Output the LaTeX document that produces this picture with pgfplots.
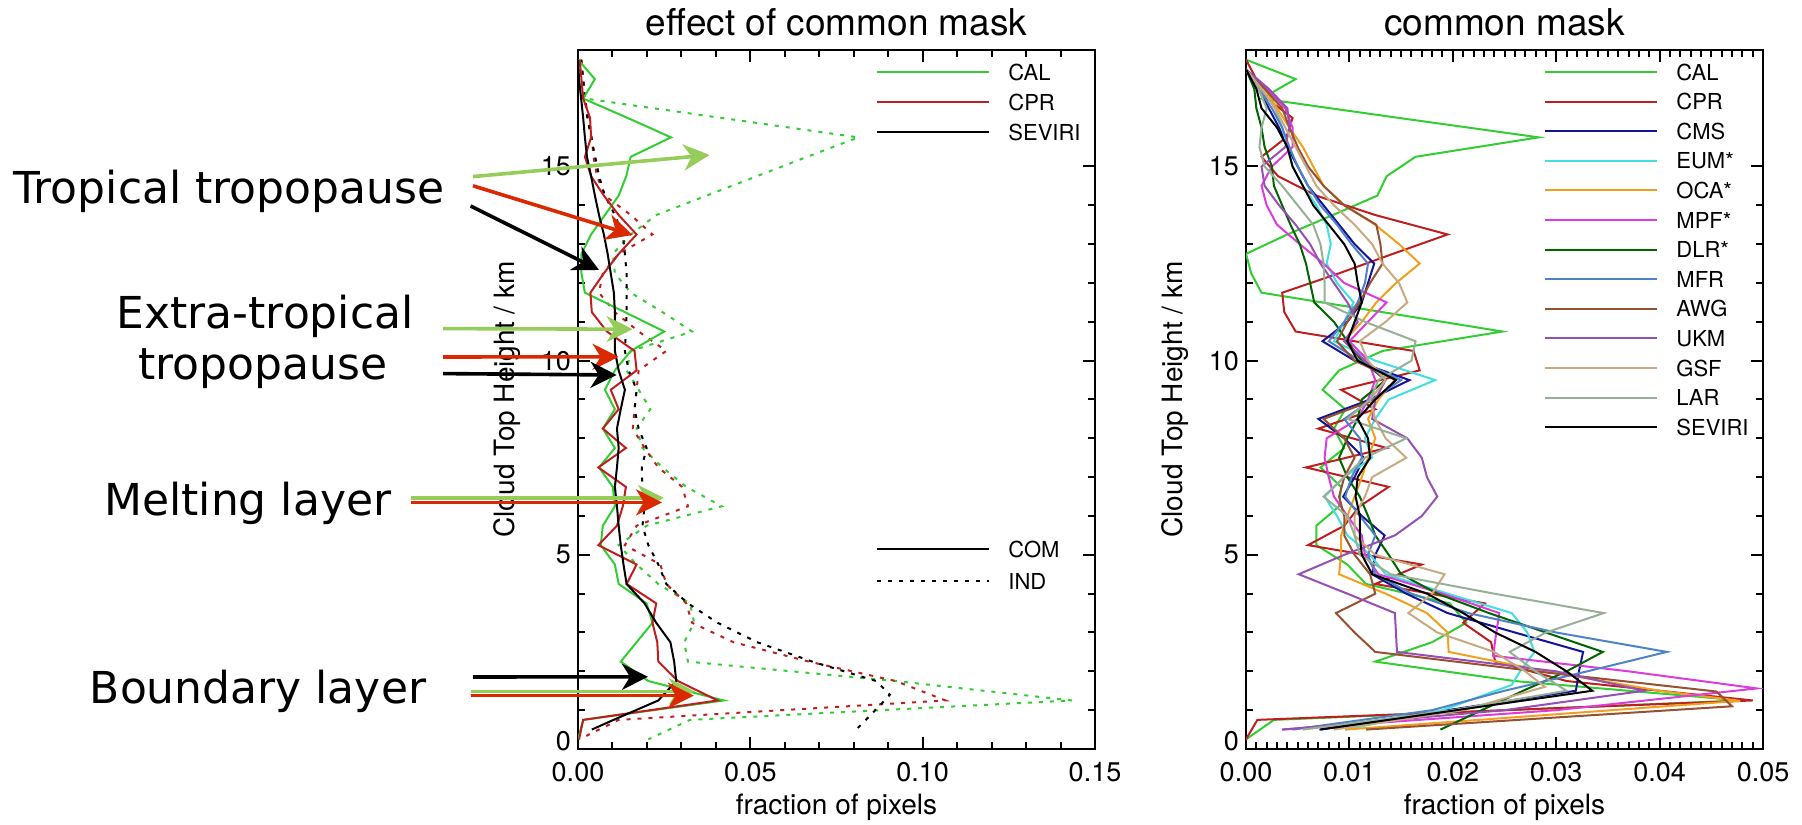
\documentclass[border=0pt]{standalone}
\usepackage{fontspec}
\setmainfont{TeX Gyre Heros}
\newfontfamily\annfont{DejaVu Sans}
\usepackage{pgfplots}
\pgfplotsset{compat=1.18}
\usetikzlibrary{arrows.meta}

\definecolor{calgreen}{RGB}{50,205,50}
\definecolor{cprred}{RGB}{190,30,30}
\definecolor{cmsblue}{RGB}{20,20,150}
\definecolor{eumcyan}{RGB}{64,224,224}
\definecolor{ocaorange}{RGB}{240,160,30}
\definecolor{mpfmag}{RGB}{220,60,220}
\definecolor{dlrgreen}{RGB}{0,100,0}
\definecolor{mfrblue}{RGB}{80,130,200}
\definecolor{awgbrown}{RGB}{150,80,50}
\definecolor{ukmpurple}{RGB}{150,80,180}
\definecolor{gsftan}{RGB}{200,170,130}
\definecolor{largray}{RGB}{150,175,150}
\definecolor{arrowgreen}{RGB}{150,205,90}
\definecolor{arrowred}{RGB}{220,40,0}

\pgfplotsset{
  myax/.style={
    scale only axis, width=258.5pt, height=349.5pt,
    xmin=0, ymin=0, ymax=18,
    axis line style={line width=1.3pt},
    tick align=inside,
    major tick length=6pt, minor tick length=3.5pt,
    every tick/.style={black, line width=1pt},
    ytick={0,5,10,15}, yticklabels={,5,10,15}, minor y tick num=4,
    extra y ticks={0.2}, extra y tick labels={0},
    extra y tick style={major tick length=0pt},
    scaled x ticks=false,
    /pgf/number format/assume math mode=true,
    xticklabel style={/pgf/number format/fixed, /pgf/number format/fixed zerofill, /pgf/number format/precision=2, yshift=-3pt},
    tick label style={font=\fontsize{13.5}{16}\selectfont},
    label style={font=\fontsize{14}{17}\selectfont},
    xlabel style={at={(axis description cs:0.5,-0.083)}, anchor=center},
    ylabel style={at={(axis description cs:-0.137,0.5)}, anchor=center},
    xlabel={fraction of pixels}, ylabel={Cloud Top Height / km},
    every axis plot/.append style={line width=1pt},
    legend image code/.code={\draw[#1] (0pt,0pt) -- (56pt,0pt);},
    legend cell align=left,
  },
  myleg/.style={legend style={draw=none, fill=none, inner sep=0pt, anchor=north west,
      font=\fontsize{11}{13}\selectfont, column sep=9pt, row sep=#1,
      nodes={inner sep=0pt, text height=9pt, text depth=1pt}}},
  ind/.style={dash pattern=on 2pt off 3.5pt},
}

\begin{document}
\begin{tikzpicture}
\useasboundingbox (0,0) rectangle (901pt,412pt);

% ---------------- left axis ----------------
\begin{axis}[myax, at={(289pt,37.5pt)}, anchor=south west,
  xmax=0.15, xtick={0,0.05,0.10,0.15}, minor x tick num=4,
  myleg=5pt, legend style={at={(axis description cs:0.5764,0.9828)}}]
% IND (dotted)
\addplot[calgreen, ind, forget plot] coordinates {
(0.0005,17.75) (0.001,17.25) (0.002,16.75) (0.0417,16.25) (0.0813,15.75) (0.0665,15.25) (0.0519,14.75) (0.0373,14.25) (0.0227,13.75) (0.0153,13.25) (0.0101,12.75) (0.0107,12.25) (0.0153,11.75) (0.0245,11.25) (0.0331,10.75) (0.0153,10.25) (0.0141,9.75) (0.0176,9.25) (0.021,8.75) (0.017,8.25) (0.0187,7.75) (0.0245,7.25) (0.0314,6.75) (0.0417,6.25) (0.0199,5.75) (0.0118,5.25) (0.017,4.75) (0.0233,4.25) (0.0325,3.75) (0.0337,3.25) (0.0308,2.75) (0.0319,2.25) (0.0922,1.75) (0.1433,1.25) (0.0325,0.75) (0.0204,0.25)};
\addplot[cprred, ind, forget plot] coordinates {
(0.001,17.75) (0.0015,17.25) (0.002,16.75) (0.003,16.25) (0.004,15.75) (0.0045,15.25) (0.0055,14.75) (0.0078,14.25) (0.0153,13.75) (0.0216,13.25) (0.0118,12.75) (0.0072,12.25) (0.0061,11.75) (0.0107,11.25) (0.0176,10.75) (0.0256,10.25) (0.0176,9.75) (0.017,9.25) (0.0164,8.75) (0.0159,8.25) (0.0193,7.75) (0.0233,7.25) (0.0302,6.75) (0.0319,6.25) (0.017,5.75) (0.0136,5.25) (0.0239,4.75) (0.0256,4.25) (0.0314,3.75) (0.0331,3.25) (0.0451,2.75) (0.067,2.25) (0.0922,1.75) (0.1066,1.25) (0.0118,0.75) (0.0004,0.25)};
\addplot[black, ind, forget plot] coordinates {
(0.0009,17.75) (0.0015,17.25) (0.0021,16.75) (0.0027,16.25) (0.0038,15.75) (0.005,15.25) (0.0061,14.75) (0.0078,14.25) (0.0107,13.75) (0.013,13.25) (0.0136,12.75) (0.0141,12.25) (0.0141,11.75) (0.0141,11.25) (0.0139,10.75) (0.0136,10.25) (0.0147,9.75) (0.017,9.25) (0.0164,8.75) (0.0176,8.25) (0.0199,7.75) (0.0185,7.25) (0.0187,6.75) (0.0193,6.25) (0.0187,5.75) (0.0204,5.25) (0.0233,4.75) (0.0256,4.25) (0.0319,3.75) (0.0405,3.25) (0.052,2.75) (0.068,2.25) (0.0865,1.75) (0.0905,1.4) (0.0882,1.18) (0.0835,0.75) (0.0807,0.5)};
% COM (solid)
\addplot[calgreen] coordinates {
(0,17.75) (0.0049,17.25) (0.0015,16.75) (0.0144,16.25) (0.027,15.75) (0.0153,15.25) (0.014,14.75) (0.0118,14.25) (0.0078,13.75) (0.0038,13.25) (0.001,12.75) (0.001,12.25) (0.002,11.75) (0.0136,11.25) (0.025,10.75) (0.0153,10.25) (0.0107,9.75) (0.0078,9.25) (0.0107,8.75) (0.0072,8.25) (0.0107,7.75) (0.0061,7.25) (0.0101,6.75) (0.0107,6.25) (0.0072,5.75) (0.0066,5.25) (0.0107,4.75) (0.0118,4.25) (0.0199,3.75) (0.0216,3.25) (0.017,2.75) (0.0124,2.25) (0.0204,1.75) (0.0423,1.25) (0.0015,0.75) (0,0.25)};
\addplot[cprred] coordinates {
(0.0005,17.75) (0.001,17.25) (0.0015,16.75) (0.0035,16.25) (0.0038,15.75) (0.002,15.25) (0.0038,14.75) (0.0075,14.25) (0.0118,13.75) (0.017,13.25) (0.0118,12.75) (0.0075,12.25) (0.0036,11.75) (0.004,11.25) (0.0084,10.75) (0.0164,10.25) (0.017,9.75) (0.0095,9.25) (0.0118,8.75) (0.0072,8.25) (0.0139,7.75) (0.0059,7.25) (0.0139,6.75) (0.013,6.25) (0.0113,5.75) (0.0059,5.25) (0.017,4.75) (0.0141,4.25) (0.0227,3.75) (0.0216,3.25) (0.023,2.75) (0.0233,2.25) (0.029,1.75) (0.0405,1.25) (0.0015,0.75) (0.0003,0.25)};
\addplot[black] coordinates {
(0,17.75) (0.0003,17.25) (0.0009,16.75) (0.0015,16.25) (0.002,15.75) (0.0026,15.25) (0.0038,14.75) (0.0049,14.25) (0.0061,13.75) (0.0075,13.25) (0.0086,12.75) (0.0095,12.25) (0.0104,11.75) (0.0107,11.25) (0.0107,10.75) (0.0107,10.25) (0.0118,9.75) (0.0136,9.25) (0.0124,8.75) (0.0113,8.25) (0.0118,7.75) (0.0113,7.25) (0.0107,6.75) (0.0113,6.25) (0.0118,5.75) (0.0124,5.25) (0.0132,4.75) (0.0141,4.25) (0.0193,3.75) (0.0227,3.25) (0.0268,2.75) (0.0279,2.25) (0.0285,1.75) (0.0233,1.25) (0.0103,0.75) (0.004,0.5)};
\legend{CAL,CPR,SEVIRI}
\end{axis}

% second legend of the left panel
\begin{axis}[at={(289pt,37.5pt)}, anchor=south west, scale only axis,
  width=258.5pt, height=349.5pt, xmin=0, xmax=0.15, ymin=0, ymax=18, hide axis,
  legend image code/.code={\draw[#1] (0pt,0pt) -- (56pt,0pt);}, legend cell align=left,
  myleg=6pt, legend style={at={(axis description cs:0.5764,0.3004)}}]
\addlegendimage{black, line width=1pt}
\addlegendentry{COM}
\addlegendimage{black, line width=1pt, ind}
\addlegendentry{IND}
\end{axis}

% ---------------- right axis ----------------
\begin{axis}[myax, at={(623pt,37.5pt)}, anchor=south west,
  xmax=0.05, xtick={0,0.01,0.02,0.03,0.04,0.05}, minor x tick num=9,
  myleg=4.8pt, legend style={at={(axis description cs:0.5764,0.9833)}}]
\addplot[calgreen] coordinates {
(0,17.75) (0.0048,17.25) (0.0015,16.75) (0.0148,16.25) (0.0283,15.75) (0.0164,15.25) (0.0136,14.75) (0.0127,14.25) (0.0084,13.75) (0.004,13.25) (0,12.75) (0.0005,12.25) (0.0015,11.75) (0.0132,11.25) (0.0248,10.75) (0.0132,10.25) (0.009,9.75) (0.0074,9.25) (0.0096,8.75) (0.0085,8.25) (0.0095,7.75) (0.0072,7.25) (0.0092,6.75) (0.009,6.25) (0.0068,5.75) (0.0068,5.25) (0.0098,4.75) (0.0116,4.25) (0.0197,3.75) (0.0213,3.25) (0.018,2.75) (0.0125,2.25) (0.026,1.75) (0.0479,1.25) (0.0027,0.75) (0,0.25)};
\addplot[cprred] coordinates {
(0,17.75) (0.001,17.25) (0.002,16.75) (0.0045,16.25) (0.0039,15.75) (0.0015,15.25) (0.0031,14.75) (0.0068,14.25) (0.0125,13.75) (0.0195,13.25) (0.0142,12.75) (0.009,12.25) (0.0035,11.75) (0.0037,11.25) (0.0048,10.75) (0.0162,10.25) (0.0168,9.75) (0.0092,9.25) (0.0125,8.75) (0.007,8.25) (0.0136,7.75) (0.0058,7.25) (0.0138,6.75) (0.011,6.25) (0.0095,5.75) (0.006,5.25) (0.017,4.75) (0.0125,4.25) (0.0231,3.75) (0.021,3.25) (0.0237,2.75) (0.0241,2.25) (0.031,1.75) (0.049,1.25) (0.0011,0.75) (0,0.25)};
\addplot[cmsblue] coordinates {
(0,17.5) (0.0012,17) (0.0022,16.5) (0.0032,16) (0.004,15.5) (0.005,15) (0.006,14.5) (0.0075,14) (0.009,13.5) (0.0105,13) (0.0124,12.5) (0.0118,12) (0.0112,11.5) (0.0098,11) (0.0074,10.5) (0.0105,10) (0.0158,9.5) (0.012,9) (0.007,8.5) (0.0095,8) (0.0114,7.5) (0.0105,7) (0.0094,6.5) (0.0112,6) (0.0134,5.5) (0.0125,5) (0.0122,4.5) (0.0155,4) (0.0195,3.5) (0.026,3) (0.0326,2.5) (0.0322,2) (0.0319,1.5) (0.0071,0.5)};
\addplot[eumcyan] coordinates {
(0,17.5) (0.0015,17) (0.0028,16.5) (0.0035,16) (0.004,15.5) (0.0045,15) (0.0055,14.5) (0.0068,14) (0.0078,13.5) (0.0082,13) (0.0078,12.5) (0.0088,12) (0.0104,11.5) (0.0095,11) (0.0085,10.5) (0.0125,10) (0.0183,9.5) (0.0138,9) (0.0125,8.5) (0.0115,8) (0.0122,7.5) (0.0095,7) (0.0076,6.5) (0.0088,6) (0.0098,5.5) (0.012,5) (0.0135,4.5) (0.0195,4) (0.0257,3.5) (0.0272,3) (0.0279,2.5) (0.0265,2) (0.0257,1.65) (0.019,1) (0.0096,0.5)};
\addplot[ocaorange] coordinates {
(0,17.5) (0.0018,17) (0.003,16.5) (0.0042,16) (0.0055,15.5) (0.0065,15) (0.0075,14.5) (0.0095,14) (0.0125,13.5) (0.0148,13) (0.0168,12.5) (0.0145,12) (0.0126,11.5) (0.0112,11) (0.0095,10.5) (0.0112,10) (0.0144,9.5) (0.0128,9) (0.0118,8.5) (0.0125,8) (0.0118,7.5) (0.0112,7) (0.0105,6.5) (0.0098,6) (0.0092,5.5) (0.0092,5) (0.009,4.5) (0.0135,4) (0.0175,3.5) (0.0195,3) (0.0196,2.5) (0.029,2) (0.04,1.5) (0.0478,1.24) (0.0096,0.5)};
\addplot[mpfmag] coordinates {
(0,17.5) (0.002,17) (0.0038,16.5) (0.0045,16) (0.0045,15.5) (0.0025,15) (0.0015,14.5) (0.002,14) (0.003,13.5) (0.0052,13) (0.0075,12.5) (0.0095,12) (0.0136,11.5) (0.0118,11) (0.01,10.5) (0.0118,10) (0.0125,9.5) (0.0118,9) (0.0108,8.5) (0.0078,8) (0.0076,7.5) (0.008,7) (0.0085,6.5) (0.0098,6) (0.0112,5.5) (0.0115,5) (0.0128,4.5) (0.019,4) (0.0245,3.5) (0.0242,3) (0.0239,2.4) (0.037,2) (0.0494,1.56) (0.03,1) (0.0035,0.5)};
\addplot[dlrgreen] coordinates {
(0,17.5) (0.0008,17) (0.001,16.5) (0.0015,16) (0.0018,15.5) (0.0025,15) (0.0027,14.5) (0.0035,14) (0.0043,13.5) (0.0052,13) (0.0058,12.5) (0.0062,12) (0.0066,11.5) (0.0085,11) (0.0098,10.5) (0.0112,10) (0.0135,9.5) (0.0112,9) (0.0108,8.5) (0.0098,8) (0.009,7.5) (0.0098,7) (0.011,6.5) (0.0118,6) (0.0125,5.5) (0.0138,5) (0.015,4.5) (0.0185,4) (0.0235,3.5) (0.029,3) (0.0345,2.5) (0.031,2) (0.0268,1.5) (0.0228,1) (0.0188,0.5)};
\addplot[mfrblue] coordinates {
(0,17.5) (0.0012,17) (0.0025,16.5) (0.0035,16) (0.0042,15.5) (0.005,15) (0.006,14.5) (0.0072,14) (0.0088,13.5) (0.0102,13) (0.0118,12.5) (0.0115,12) (0.0108,11.5) (0.0095,11) (0.008,10.5) (0.011,10) (0.015,9.5) (0.0122,9) (0.0095,8.5) (0.011,8) (0.0112,7.5) (0.0102,7) (0.0096,6.5) (0.011,6) (0.0125,5.5) (0.0118,5) (0.0125,4.5) (0.016,4) (0.0215,3.5) (0.03,3) (0.0407,2.5) (0.033,2) (0.025,1.5) (0.018,1) (0.0045,0.5)};
\addplot[awgbrown] coordinates {
(0,17.5) (0.0018,17) (0.0035,16.5) (0.0042,16) (0.005,15.5) (0.006,15) (0.0075,14.5) (0.0095,14) (0.0126,13.5) (0.013,13) (0.0132,12.5) (0.012,12) (0.011,11.5) (0.0098,11) (0.0088,10.5) (0.0105,10) (0.0145,9.5) (0.0125,9) (0.0075,8.5) (0.0095,8) (0.0105,7.5) (0.0095,7) (0.009,6.5) (0.0095,6) (0.0095,5.5) (0.0105,5) (0.012,4.5) (0.0125,4) (0.0087,3.5) (0.0105,3) (0.0125,2.5) (0.028,2) (0.0455,1.48) (0.047,1.1) (0.0116,0.5)};
\addplot[ukmpurple] coordinates {
(0,17.5) (0.0022,17) (0.004,16.5) (0.0042,16) (0.0038,15.5) (0.0015,15) (0.0018,14.5) (0.0032,14) (0.0048,13.5) (0.0062,13) (0.0072,12.5) (0.0085,12) (0.0098,11.5) (0.0108,11) (0.0095,10.5) (0.0115,10) (0.0135,9.5) (0.0125,9) (0.0122,8.5) (0.0156,8) (0.017,7.5) (0.0175,7) (0.0185,6.5) (0.017,6) (0.0144,5.5) (0.0095,5) (0.0051,4.5) (0.0098,4) (0.0144,3.5) (0.0145,3) (0.0146,2.5) (0.03,2) (0.0385,1.5) (0.025,1) (0.0035,0.5)};
\addplot[gsftan] coordinates {
(0,17.5) (0.0015,17) (0.0028,16.5) (0.0038,16) (0.0048,15.5) (0.0058,15) (0.0068,14.5) (0.0085,14) (0.0105,13.5) (0.0122,13) (0.0132,12.5) (0.0148,12) (0.0156,11.5) (0.0135,11) (0.011,10.5) (0.0118,10) (0.0135,9.5) (0.012,9) (0.0125,8.5) (0.0135,8) (0.0155,7.5) (0.0122,7) (0.0115,6.5) (0.0105,6) (0.0105,5.5) (0.0125,5) (0.0192,4.5) (0.018,4) (0.0157,3.5) (0.0185,3) (0.024,2.5) (0.027,2) (0.0289,1.6) (0.021,1) (0.0085,0.5)};
\addplot[largray] coordinates {
(0,17.5) (0.0012,17) (0.002,16.5) (0.0015,16) (0.0013,15.5) (0.0018,15) (0.0035,14.5) (0.005,14) (0.0065,13.5) (0.0072,13) (0.0075,12.5) (0.0076,12) (0.0076,11.5) (0.0115,11) (0.0164,10.5) (0.016,10) (0.0128,9.5) (0.012,9) (0.0098,8.5) (0.0155,8) (0.0115,7.5) (0.0095,7) (0.0075,6.5) (0.0098,6) (0.0105,5.5) (0.011,5) (0.014,4.5) (0.024,4) (0.0346,3.5) (0.029,3) (0.0255,2.5) (0.028,2) (0.031,1.5) (0.02,1) (0.0055,0.5)};
\addplot[black] coordinates {
(0,17.5) (0.001,17) (0.0015,16.5) (0.003,16) (0.004,15.5) (0.0045,15) (0.0055,14.5) (0.0065,14) (0.008,13.5) (0.0095,13) (0.0105,12.5) (0.0108,12) (0.0112,11.5) (0.0105,11) (0.0098,10.5) (0.0108,10) (0.0145,9.5) (0.0125,9) (0.0108,8.5) (0.0118,8) (0.012,7.5) (0.0108,7) (0.0106,6.5) (0.011,6) (0.011,5.5) (0.0112,5) (0.0122,4.5) (0.0175,4) (0.021,3.5) (0.0241,3) (0.028,2.5) (0.031,2) (0.0335,1.5) (0.0072,0.5)};
\legend{CAL,CPR,CMS,EUM*,OCA*,MPF*,DLR*,MFR,AWG,UKM,GSF,LAR,SEVIRI}
\end{axis}

% ---------------- titles ----------------
\node[anchor=base, inner sep=0pt, font=\fontsize{18.5}{21}\selectfont] at (418.25pt,394pt) {effect of common mask};
\node[anchor=base, inner sep=0pt, font=\fontsize{18.5}{21}\selectfont] at (752.25pt,394pt) {common mask};

% ---------------- annotations ----------------
\begin{scope}[font=\annfont\fontsize{22}{25}\selectfont]
\node[anchor=base west, inner sep=0pt] at (6.5pt,310.3pt) {Tropical tropopause};
\node[anchor=base, inner sep=0pt] at (132.5pt,247.7pt) {Extra-tropical};
\node[anchor=base, inner sep=0pt] at (131.5pt,222pt) {tropopause};
\node[anchor=base, inner sep=0pt] at (123.9pt,154pt) {Melting layer};
\node[anchor=base, inner sep=0pt] at (129pt,60.2pt) {Boundary layer};
\end{scope}
\tikzset{ann/.style={line width=1.8pt, -{Stealth[length=13pt,width=13pt,inset=4pt]}}}
\draw[ann, arrowgreen] (236.5pt,323.7pt) -- (354.8pt,334.5pt);
\draw[ann, arrowred] (236.5pt,319.1pt) -- (316.3pt,294.5pt);
\draw[ann, black] (235.3pt,309pt) -- (299.5pt,277pt);
\draw[ann, arrowgreen] (221.5pt,247.7pt) -- (316.3pt,247.4pt);
\draw[ann, arrowred] (221.5pt,233.5pt) -- (309.3pt,233.6pt);
\draw[ann, black] (221.5pt,225.2pt) -- (308.3pt,224.5pt);
\draw[ann, arrowgreen] (205.5pt,163pt) -- (332pt,163pt);
\draw[ann, arrowred] (205.5pt,160.8pt) -- (331pt,160.8pt);
\draw[ann, black] (236.5pt,73.5pt) -- (324pt,73.6pt);
\draw[ann, arrowgreen] (235.3pt,66.3pt) -- (347.5pt,66.3pt);
\draw[ann, arrowred] (235.3pt,64.2pt) -- (346.9pt,64.2pt);
\end{tikzpicture}
\end{document}
